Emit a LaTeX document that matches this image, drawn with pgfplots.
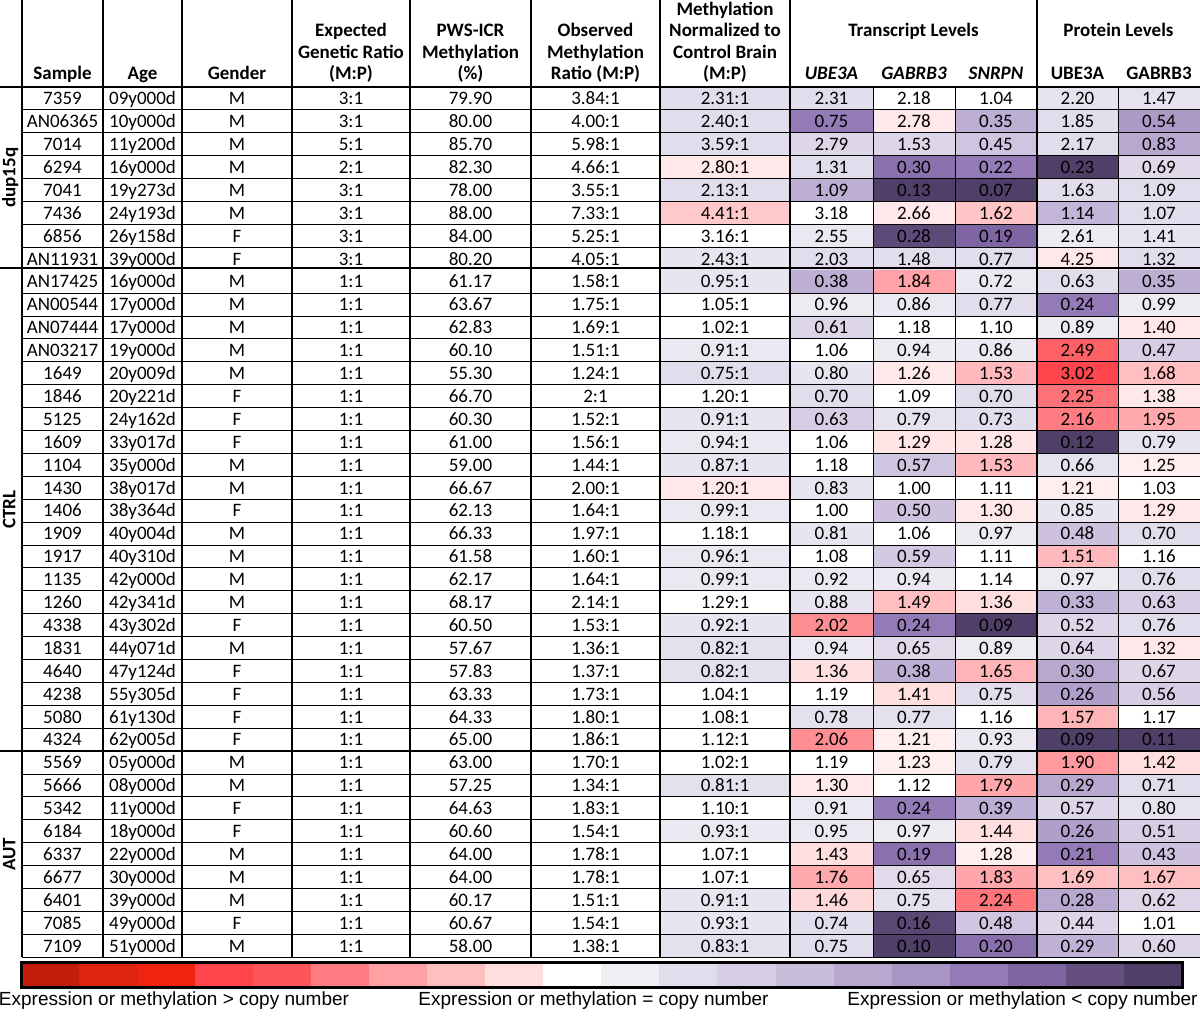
\documentclass[border=0pt]{standalone}
\usepackage{fontspec}
\setmainfont{Carlito}
\newfontfamily\arialfont{Liberation Sans}
\usepackage{pgfplots}
\usepackage{pgfplotstable}
\pgfplotsset{compat=1.18}

\pgfdeclareplotmark{cellM}{\pgfpathrectangle{\pgfqpoint{-65pt}{-11.6pt}}{\pgfqpoint{130pt}{23.2pt}}\pgfusepathqfill}
\pgfdeclareplotmark{cellT}{\pgfpathrectangle{\pgfqpoint{-41.5pt}{-11.6pt}}{\pgfqpoint{83pt}{23.2pt}}\pgfusepathqfill}
\pgfdeclareplotmark{cellB}{\pgfpathrectangle{\pgfqpoint{-29.2pt}{-12.5pt}}{\pgfqpoint{58.4pt}{25pt}}\pgfusepathqfill}

\tikzset{hdr/.style={anchor=base, inner sep=0pt, font=\bfseries\fontsize{19}{21.5}\selectfont}}
\pgfplotsset{
  colormap={rp}{rgb255=(196,28,12) rgb255=(222,35,15) rgb255=(240,35,15) rgb255=(255,68,75)
    rgb255=(252,85,90) rgb255=(255,125,130) rgb255=(255,160,165) rgb255=(255,190,192)
    rgb255=(255,222,223) rgb255=(255,255,255) rgb255=(240,237,244) rgb255=(226,221,236)
    rgb255=(215,206,229) rgb255=(200,188,219) rgb255=(184,168,208) rgb255=(168,149,196)
    rgb255=(148,123,183) rgb255=(127,101,161) rgb255=(100,79,128) rgb255=(80,63,104)},
  txt/.style={draw=none, mark=none, nodes near coords, point meta=explicit symbolic,
    every node near coord/.append style={anchor=base, inner sep=0pt, text=black,
      font=\fontsize{19}{22}\selectfont}},
  heat/.style={scatter, only marks, mark=#1, point meta=explicit,
    scatter/use mapped color={fill=mapped color, draw=none}},
}

\pgfplotstableread{
Sample Age Gender Exp PWS Obs Meth U G S PU PG cM cU cG cS cPU cPG
7359 09y000d M 3:1 79.90 3.84:1 2.31:1 2.31 2.18 1.04 2.20 1.47 11 11 9 9 10.7 10.7
AN06365 10y000d M 3:1 80.00 4.00:1 2.40:1 0.75 2.78 0.35 1.85 0.54 11 16 8.3 13.7 11 14.8
7014 11y200d M 5:1 85.70 5.98:1 3.59:1 2.79 1.53 0.45 2.17 0.83 11 11.5 11.5 12.5 11 14
6294 16y000d M 2:1 82.30 4.66:1 2.80:1 1.31 0.30 0.22 0.23 0.69 8.3 11 16.5 16 19 11.3
7041 19y273d M 3:1 78.00 3.55:1 2.13:1 1.09 0.13 0.07 1.63 1.09 11 13.7 19 19 11 11
7436 24y193d M 3:1 88.00 7.33:1 4.41:1 3.18 2.66 1.62 1.14 1.07 7.3 9 8.3 7.2 13.3 11
6856 26y158d F 3:1 84.00 5.25:1 3.16:1 2.55 0.28 0.19 2.61 1.41 9 10.3 18.3 17 10.2 10.5
AN11931 39y000d F 3:1 80.20 4.05:1 2.43:1 2.03 1.48 0.77 4.25 1.32 10.5 11 11 11 8.3 11
AN17425 16y000d M 1:1 61.17 1.58:1 0.95:1 0.38 1.84 0.72 0.63 0.35 10.5 13.7 6.1 10.3 11 13.7
AN00544 17y000d M 1:1 63.67 1.75:1 1.05:1 0.96 0.86 0.77 0.24 0.99 9 10.2 10.3 11 16 10.2
AN07444 17y000d M 1:1 62.83 1.69:1 1.02:1 0.61 1.18 1.10 0.89 1.40 9 11.5 9 9 10.2 8.3
AN03217 19y000d M 1:1 60.10 1.51:1 0.91:1 1.06 0.94 0.86 2.49 0.47 10.3 9 10.2 10.3 4.3 12
1649 20y009d M 1:1 55.30 1.24:1 0.75:1 0.80 1.26 1.53 3.02 1.68 11 10.5 8.3 6.8 3.1 7
1846 20y221d F 1:1 66.70 2:1 1.20:1 0.70 1.09 0.70 2.25 1.38 9 11 9 11 4.7 8.3
5125 24y162d F 1:1 60.30 1.52:1 0.91:1 0.63 0.79 0.73 2.16 1.95 10.5 12 10.7 11 5 6.3
1609 33y017d F 1:1 61.00 1.56:1 0.94:1 1.06 1.29 1.28 0.12 0.79 10.3 9 8.2 8.2 19 10.7
1104 35y000d M 1:1 59.00 1.44:1 0.87:1 1.18 0.57 1.53 0.66 1.25 10.5 9 12.5 6.8 10.7 8.5
1430 38y017d M 1:1 66.67 2.00:1 1.20:1 0.83 1.00 1.11 1.21 1.03 8.3 10.5 9 9 8.5 9
1406 38y364d F 1:1 62.13 1.64:1 0.99:1 1.00 0.50 1.30 0.85 1.29 10.3 9 12.7 8.3 10.5 8.3
1909 40y004d M 1:1 66.33 1.97:1 1.18:1 0.81 1.06 0.97 0.48 0.70 9 10.5 9 10.2 12.7 11
1917 40y310d M 1:1 61.58 1.60:1 0.96:1 1.08 0.59 1.11 1.51 1.16 10.3 9 12.3 9 6.8 9
1135 42y000d M 1:1 62.17 1.64:1 0.99:1 0.92 0.94 1.14 0.97 0.76 10.3 10.3 10.3 9 10.2 11
1260 42y341d M 1:1 68.17 2.14:1 1.29:1 0.88 1.49 1.36 0.33 0.63 9 10.5 7 8 13.5 12
4338 43y302d F 1:1 60.50 1.53:1 0.92:1 2.02 0.24 0.09 0.52 0.76 10.5 5.5 16 19 11.5 11
1831 44y071d M 1:1 57.67 1.36:1 0.82:1 0.94 0.65 0.89 0.64 1.32 10.8 10.3 11.2 10.2 11.5 8.3
4640 47y124d F 1:1 57.83 1.37:1 0.82:1 1.36 0.38 1.65 0.30 0.67 10.8 8 13.7 6.7 14 11.5
4238 55y305d F 1:1 63.33 1.73:1 1.04:1 1.19 1.41 0.75 0.26 0.56 9 9 8 11 14.5 12
5080 61y130d F 1:1 64.33 1.80:1 1.08:1 0.78 0.77 1.16 1.57 1.17 9 10.8 10.8 9 6.7 9
4324 62y005d F 1:1 65.00 1.86:1 1.12:1 2.06 1.21 0.93 0.09 0.11 9 5.5 8.5 10.3 19 19
5569 05y000d M 1:1 63.00 1.70:1 1.02:1 1.19 1.23 0.79 1.90 1.42 9 9 8.5 10.8 5.8 8
5666 08y000d M 1:1 57.25 1.34:1 0.81:1 1.30 1.12 1.79 0.29 0.71 10.8 8.3 9 6.2 14 11
5342 11y000d F 1:1 64.63 1.83:1 1.10:1 0.91 0.24 0.39 0.57 0.80 9 10.3 16 13.7 11.5 10.7
6184 18y000d F 1:1 60.60 1.54:1 0.93:1 0.95 0.97 1.44 0.26 0.51 10.3 10.3 10.2 8 14.5 12
6337 22y000d M 1:1 64.00 1.78:1 1.07:1 1.43 0.19 1.28 0.21 0.43 9 8 16.5 8.5 16 12.7
6677 30y000d M 1:1 64.00 1.78:1 1.07:1 1.76 0.65 1.83 1.69 1.67 9 6.3 11.2 6.2 7 7
6401 39y000d M 1:1 60.17 1.51:1 0.91:1 1.46 0.75 2.24 0.28 0.62 10.5 7.8 10.8 4.8 14 11.5
7085 49y000d F 1:1 60.67 1.54:1 0.93:1 0.74 0.16 0.48 0.44 1.01 10.5 11 18.5 12.5 11.5 9
7109 51y000d M 1:1 58.00 1.38:1 0.83:1 0.75 0.10 0.20 0.29 0.60 10.8 11 19 16.5 13.5 11.5
}\data

\begin{document}
\begin{tikzpicture}
\begin{axis}[name=ax,
  width=1200pt, height=1025pt, scale only axis,
  xmin=0, xmax=1200, ymin=0, ymax=1025, y dir=reverse,
  enlargelimits=false, hide axis, clip=false,
  colormap name=rp, point meta min=0, point meta max=19,
]
% heatmap cells
\addplot[heat=cellM] table[x expr=725, y expr=98.45+22.9*\coordindex, meta=cM]{\data};
\addplot[heat=cellT] table[x expr=831.5, y expr=98.45+22.9*\coordindex, meta=cU]{\data};
\addplot[heat=cellT] table[x expr=914, y expr=98.45+22.9*\coordindex, meta=cG]{\data};
\addplot[heat=cellT] table[x expr=996, y expr=98.45+22.9*\coordindex, meta=cS]{\data};
\addplot[heat=cellT] table[x expr=1077.5, y expr=98.45+22.9*\coordindex, meta=cPU]{\data};
\addplot[heat=cellT] table[x expr=1159, y expr=98.45+22.9*\coordindex, meta=cPG]{\data};
% colour bar
\addplot[heat=cellB] coordinates {
 (50.0,975) [0] (108.1,975) [1] (166.1,975) [2] (224.2,975) [3] (282.2,975) [4]
 (340.3,975) [5] (398.3,975) [6] (456.4,975) [7] (514.4,975) [8] (572.5,975) [9]
 (630.5,975) [10] (688.6,975) [11] (746.6,975) [12] (804.7,975) [13] (862.7,975) [14]
 (920.8,975) [15] (978.8,975) [16] (1036.9,975) [17] (1094.9,975) [18] (1153.0,975) [19]};

% cell texts
\addplot[txt] table[x expr=62.5, y expr=104.75+22.9*\coordindex, meta=Sample]{\data};
\addplot[txt] table[x expr=142.5, y expr=104.75+22.9*\coordindex, meta=Age]{\data};
\addplot[txt] table[x expr=237, y expr=104.75+22.9*\coordindex, meta=Gender]{\data};
\addplot[txt] table[x expr=351, y expr=104.75+22.9*\coordindex, meta=Exp]{\data};
\addplot[txt] table[x expr=470.5, y expr=104.75+22.9*\coordindex, meta=PWS]{\data};
\addplot[txt] table[x expr=595.5, y expr=104.75+22.9*\coordindex, meta=Obs]{\data};
\addplot[txt] table[x expr=725, y expr=104.75+22.9*\coordindex, meta=Meth]{\data};
\addplot[txt] table[x expr=831.5, y expr=104.75+22.9*\coordindex, meta=U]{\data};
\addplot[txt] table[x expr=914, y expr=104.75+22.9*\coordindex, meta=G]{\data};
\addplot[txt] table[x expr=996, y expr=104.75+22.9*\coordindex, meta=S]{\data};
\addplot[txt] table[x expr=1077.5, y expr=104.75+22.9*\coordindex, meta=PU]{\data};
\addplot[txt] table[x expr=1159, y expr=104.75+22.9*\coordindex, meta=PG]{\data};

% headers
\node[hdr] at (axis cs:62.5,80) {Sample};
\node[hdr] at (axis cs:142.5,80) {Age};
\node[hdr] at (axis cs:237,80) {Gender};
\node[hdr] at (axis cs:351,37) {Expected};
\node[hdr] at (axis cs:351,58.5) {Genetic Ratio};
\node[hdr] at (axis cs:351,80) {(M:P)};
\node[hdr] at (axis cs:470.5,37) {PWS-ICR};
\node[hdr] at (axis cs:470.5,58.5) {Methylation};
\node[hdr] at (axis cs:470.5,80) {(\%)};
\node[hdr] at (axis cs:595.5,37) {Observed};
\node[hdr] at (axis cs:595.5,58.5) {Methylation};
\node[hdr] at (axis cs:595.5,80) {Ratio (M:P)};
\node[hdr] at (axis cs:725,15.5) {Methylation};
\node[hdr] at (axis cs:725,37) {Normalized to};
\node[hdr] at (axis cs:725,58.5) {Control Brain};
\node[hdr] at (axis cs:725,80) {(M:P)};
\node[hdr] at (axis cs:913.5,37) {Transcript Levels};
\node[hdr] at (axis cs:1118.5,37) {Protein Levels};
\node[hdr] at (axis cs:831.5,80) {\itshape UBE3A};
\node[hdr] at (axis cs:914,80) {\itshape GABRB3};
\node[hdr] at (axis cs:996,80) {\itshape SNRPN};
\node[hdr] at (axis cs:1077.5,80) {UBE3A};
\node[hdr] at (axis cs:1159,80) {GABRB3};

% group labels
\node[rotate=90, anchor=mid, inner sep=0pt, font=\bfseries\fontsize{19}{21.5}\selectfont] at (axis cs:13,177.6) {dup15q};
\node[rotate=90, anchor=mid, inner sep=0pt, font=\bfseries\fontsize{19}{21.5}\selectfont] at (axis cs:13,509.6) {CTRL};
\node[rotate=90, anchor=mid, inner sep=0pt, font=\bfseries\fontsize{19}{21.5}\selectfont] at (axis cs:13,854.1) {AUT};

% legend texts
\node[anchor=base, inner sep=0pt, font=\arialfont\fontsize{19}{22}\selectfont] at (axis cs:174,1005) {Expression or methylation > copy number};
\node[anchor=base, inner sep=0pt, font=\arialfont\fontsize{19}{22}\selectfont] at (axis cs:593.5,1005) {Expression or methylation = copy number};
\node[anchor=base, inner sep=0pt, font=\arialfont\fontsize{19}{22}\selectfont] at (axis cs:1022.5,1005) {Expression or methylation < copy number};
\end{axis}
% table rules, drawn over the cells (1 unit = 1pt, origin at the top left, y downwards)
\begin{scope}[shift={(ax.north west)}, x=1pt, y=-1pt]
  \foreach \k in {1,...,7,9,10,...,28,30,31,...,38}
    \draw[line width=0.8pt] (22,{87+22.9*\k}) -- (1200,{87+22.9*\k});
  \foreach \xx in {873,955,1118}
    \draw[line width=0.8pt] (\xx,87) -- (\xx,957.2);
  \foreach \xx in {22,103,182,292,410,531,660,790,1037}
    \draw[line width=2.4pt] (\xx,0) -- (\xx,957.2);
  \foreach \yy in {87,268.2,751.1}
    \draw[line width=2.4pt] (0,\yy) -- (1200,\yy);
  \draw[line width=3pt] (21,962.5) rectangle (1182,987.5);
\end{scope}
\pgfresetboundingbox
\path (ax.south west) rectangle (ax.north east);
\end{tikzpicture}
\end{document}
